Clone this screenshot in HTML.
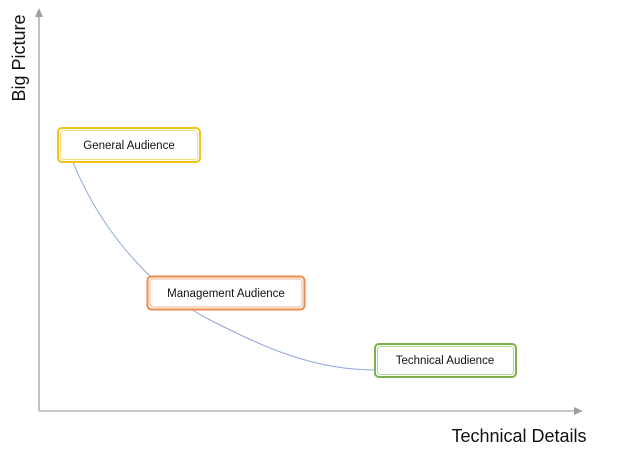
<!DOCTYPE html>
<html><head><meta charset="utf-8"><style>
html,body{margin:0;padding:0;background:#fff;}
svg{display:block;}
text{font-family:"Liberation Sans",sans-serif;}
</style></head><body>
<svg width="637" height="458" viewBox="0 0 637 458" xmlns="http://www.w3.org/2000/svg">
<line x1="39" y1="411" x2="39" y2="16" stroke="#c0c0c0" stroke-width="2"/>
<polygon points="39,8 35,17 43,17" fill="#a0a0a0"/>
<line x1="39" y1="411" x2="575" y2="411" stroke="#c8c8c8" stroke-width="2"/>
<polygon points="583,411 574,407 574,415" fill="#a0a0a0"/>
<path d="M62,131 C95,240 170,300 210,320 C260,345 310,370 376,370" fill="none" stroke="#8fa8d8" stroke-width="1"/>
<rect x="58" y="128" width="142" height="34" rx="4" fill="#fff" stroke="#f2c318" stroke-width="2"/>
<rect x="60.5" y="130.5" width="137" height="29" rx="3" fill="none" stroke="#f8de7a" stroke-width="1"/>
<text x="129" y="149" font-size="11.5" text-anchor="middle" fill="#111">General Audience</text>
<rect x="147.5" y="276.5" width="157" height="33" rx="4" fill="#fff" stroke="#ec8a4a" stroke-width="2"/>
<rect x="150" y="279" width="152" height="28" rx="3" fill="none" stroke="#f5b48a" stroke-width="1"/>
<text x="226" y="297" font-size="11.5" text-anchor="middle" fill="#111">Management Audience</text>
<rect x="375" y="344" width="141" height="33" rx="4" fill="#fff" stroke="#7ab04a" stroke-width="2"/>
<rect x="377.5" y="346.5" width="136" height="28" rx="3" fill="none" stroke="#b2d494" stroke-width="1"/>
<text x="445" y="364" font-size="11.5" text-anchor="middle" fill="#111">Technical Audience</text>
<text x="519" y="442" font-size="18" text-anchor="middle" fill="#111">Technical Details</text>
<text transform="translate(25,58) rotate(-90)" font-size="18" text-anchor="middle" fill="#111">Big Picture</text>
</svg>
</body></html>
